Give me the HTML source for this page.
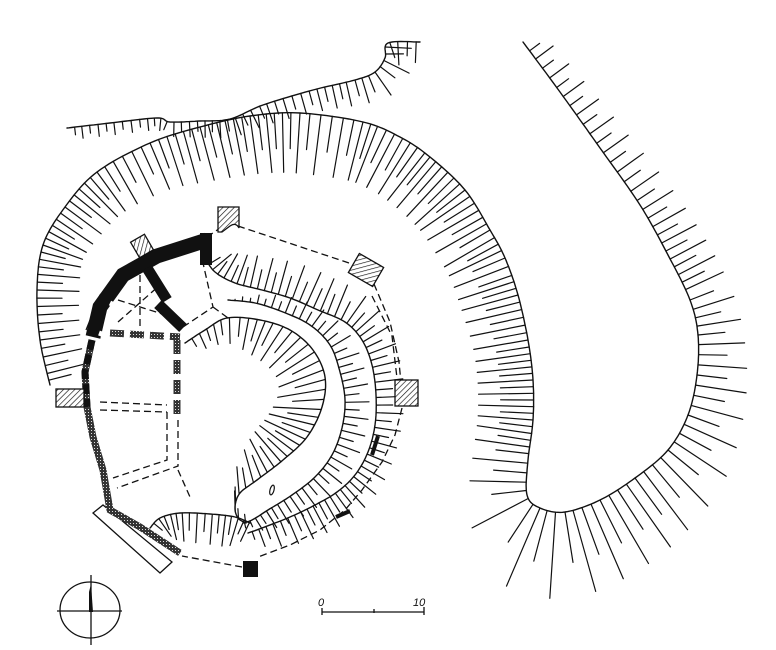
<!DOCTYPE html>
<html><head><meta charset="utf-8"><style>
html,body{margin:0;padding:0;background:#fff;}
svg{display:block;}
</style></head><body>
<svg id="s" width="776" height="650" viewBox="0 0 776 650" xmlns="http://www.w3.org/2000/svg">
<defs>
<pattern id="hat" width="4" height="4" patternUnits="userSpaceOnUse" patternTransform="rotate(45)">
<rect width="4" height="4" fill="#fff"/><line x1="0" y1="0" x2="0" y2="4" stroke="#111" stroke-width="1.3"/>
</pattern>
<pattern id="dot" width="3" height="3" patternUnits="userSpaceOnUse">
<rect width="3" height="3" fill="#333"/><rect x="1" y="1" width="1" height="1" fill="#ddd"/>
</pattern>
</defs>
<g id="h" stroke="#111" stroke-width="1.2" fill="none" stroke-linecap="round"></g>
<g id="w"></g>
</svg>
<script>
var NS="http://www.w3.org/2000/svg",H=document.getElementById('h'),W=document.getElementById('w');
function el(p,tag,a){var e=document.createElementNS(NS,tag);for(var k in a)e.setAttribute(k,a[k]);p.appendChild(e);return e;}
function smooth(P,n){var o=[];for(var i=0;i<P.length-1;i++){var p0=P[Math.max(i-1,0)],p1=P[i],p2=P[i+1],p3=P[Math.min(i+2,P.length-1)];
for(var j=0;j<n;j++){var t=j/n,t2=t*t,t3=t2*t,r=[];for(var k=0;k<4;k++){var a=p0[k]===undefined?0:p0[k];r[k]=0.5*((2*p1[k])+(-p0[k]+p2[k])*t+(2*p0[k]-5*p1[k]+4*p2[k]-p3[k])*t2+(-p0[k]+3*p1[k]-3*p2[k]+p3[k])*t3);}o.push(r);}}
o.push(P[P.length-1]);return o;}
function hach(P,side,alt,center){var S=smooth(P,12);var d='M'+S.map(function(p){return p[0].toFixed(1)+' '+p[1].toFixed(1)}).join('L');
el(H,'path',{d:d,'stroke-width':1.4});
var acc=0,cnt=0;for(var i=1;i<S.length;i++){var dx=S[i][0]-S[i-1][0],dy=S[i][1]-S[i-1][1],l=Math.hypot(dx,dy);acc+=l;
var sp=S[i][3];
if(acc>=sp){acc=0;cnt++;var L=S[i][2];if(L<=0)continue;if(cnt%2==1)L*=alt;var nx,ny;
if(center){nx=center[0]-S[i][0];ny=center[1]-S[i][1];var m=Math.hypot(nx,ny);nx/=m;ny/=m;}
else{nx=side*dy/l;ny=-side*dx/l;}
el(H,'line',{x1:S[i][0].toFixed(1),y1:S[i][1].toFixed(1),x2:(S[i][0]+nx*L).toFixed(1),y2:(S[i][1]+ny*L).toFixed(1)});}}}
function sp(P,s){return P.map(function(p){return [p[0],p[1],p[2],p.length>3?p[3]:s];});}
// main band + ring
hach([[523,42,20,8],[560,92,25,8],[600,148,30,8],[640,205,35,8],[668,255,40,8],[690,300,42,8],[698,335,45,8],[697,375,50,8],[688,415,55,8],[668,450,65,8],[635,478,75,8],[600,500,80,8],[565,512,85,8],[540,508,85,7],[527,495,60,7],[528,460,55,6.5],[533,420,55,6.5],[533,380,55,6.5],[528,340,55,6.5],[518,295,58,6.5],[505,258,58,6.5],[490,230,58,6.5],[465,190,60,6.5],[430,157,60,6.5],[400,137,60,6.5],[363,122,60,6.5],[300,113,60,6.5],[250,116,58,6.5],[200,127,55,6.5],[150,143,50,6.5],[97,172,48,6.5],[65,207,45,6.5],[43,245,42,6.5],[37,290,42,6.5],[40,340,40,6.5],[50,385,38,6.5]],1,0.6);
// top line
hach(sp([[67,128,12],[110,123,12],[157,118,12],[170,122,14],[200,121,16],[230,119,18],[263,105,20],[313,90,22],[355,80,25],[375,72,28],[385,58,28],[388,43,25],[420,42,20]],6.5),-1,0.65);
// core
hach(sp([[185,343,12],[205,330,18],[227,318,25],[260,320,35],[290,330,42],[313,350,45],[325,377,48],[322,407,48],[307,437,45],[283,460,40],[257,480,35],[240,493,28],[235,507,22],[238,518,16],[246,523,8]],8),1,0.65,[232,405]);
// tongue outer
hach(sp([[228,300,0],[255,303,8],[283,312,16],[310,325,20],[330,345,22],[340,372,24],[345,400,24],[342,428,24],[332,455,24],[315,477,24],[292,495,24],[268,510,20],[252,520,12],[243,523,4]],5.5),1,0.6);
// P_A
hach(sp([[205,258,20],[215,272,25],[235,283,30],[262,290,33],[290,298,35],[318,310,35],[345,322,33],[362,340,30],[372,365,28],[376,395,28],[375,425,26],[368,452,26],[355,475,28],[337,492,30],[315,505,30],[290,517,28],[262,528,20],[248,533,10]],6),1,0.6);
// bottom mound
hach(sp([[150,528,15],[160,518,22],[180,513,28],[210,514,30],[235,517,30],[250,523,20]],5.5),-1,0.6);
</script>
<svg width="776" height="650" style="position:absolute;left:0;top:0" xmlns="http://www.w3.org/2000/svg">
<g fill="none" stroke="#111" stroke-width="1.3" stroke-dasharray="7,4">
<path d="M207 237 L226 224 M238 226 L355 265 M374 284 L390 322 L399 362 L401 383 M402 408 L395 435 L382 462 L362 490 L345 510 L320 530 L290 545 L258 557 M242 567 L182 556"/>
<path d="M372 296 L392 336 L397 378"/>
<path d="M183 327 L213 307 L203 263 M213 307 L228 318"/>
<path d="M140 275 L140 330 M118 300 L175 318 M118 322 L160 285"/>
<path d="M100 402 L167 405 M100 410 L167 412 M167 412 L167 460 L113 478 M178 420 L178 466 L117 488 M178 470 L190 497"/>
</g>
<polygon points="93,513 103,505 172,562 160,573" fill="#fff" stroke="#111" stroke-width="1.3"/>
<path d="M86 330 L100 295 L130 265 L152 252" fill="none" stroke="#111" stroke-width="1.2"/>
<path d="M93 337 L100 307 L123 275 L157 256 L207 240" fill="none" stroke="#111" stroke-width="15"/>
<rect x="200" y="233" width="12" height="32" fill="#111"/>
<path d="M147 268 L167 300 M158 304 L183 328" stroke="#111" stroke-width="11"/>
<path d="M110 303 L118 307 M99 333 L107 336" stroke="#fff" stroke-width="5"/>
<path d="M92 340 L85 372 L87 407 L93 437 L103 470 L110 510 L140 527 L180 553" fill="none" stroke="url(#dot)" stroke-width="7"/>
<path d="M92 340 L85 372 L87 407" fill="none" stroke="#111" stroke-width="7" stroke-dasharray="10,5"/>
<path d="M110 333 L180 337 M177 340 L177 418" stroke="url(#dot)" stroke-width="7" stroke-dasharray="14,6"/>
<path d="M218 207 L239 207 L239 228 Q236 222 230 226 L222 232 L218 232 Z" fill="url(#hat)" stroke="#111" stroke-width="1.3"/>
<rect x="-8" y="-9" width="16" height="18" transform="translate(142,246) rotate(-30)" fill="url(#hat)" stroke="#111" stroke-width="1.3"/>
<rect x="-14" y="-11" width="28" height="22" transform="translate(366,270) rotate(30)" fill="url(#hat)" stroke="#111" stroke-width="1.3"/>
<rect x="395" y="380" width="23" height="26" fill="url(#hat)" stroke="#111" stroke-width="1.3"/>
<rect x="56" y="389" width="28" height="18" fill="url(#hat)" stroke="#111" stroke-width="1.3"/>
<rect x="243" y="561" width="15" height="16" fill="#111"/>
<path d="M372 455 L378 436 M336 517 L350 511" stroke="#111" stroke-width="4"/>
<ellipse cx="272" cy="490" rx="2" ry="5" fill="none" stroke="#111" stroke-width="1.2" transform="rotate(15 272 490)"/>
<g stroke="#111" stroke-width="1.3" fill="none">
<ellipse cx="90" cy="610" rx="30" ry="28"/>
<line x1="91" y1="575" x2="91" y2="645"/>
<line x1="57" y1="611" x2="122" y2="611"/>
<path d="M322 612 L424 612 M322 608 L322 615 M374 609 L374 613 M424 607 L424 615"/>
</g>
<path d="M89 592 L91 584 L93 612 L89 612 Z" fill="#111"/>
<text x="318" y="606" font-family="Liberation Sans, sans-serif" font-size="11" font-style="italic" fill="#111">0</text>
<text x="413" y="606" font-family="Liberation Sans, sans-serif" font-size="11" font-style="italic" fill="#111">10</text>
</svg>
</body></html>
